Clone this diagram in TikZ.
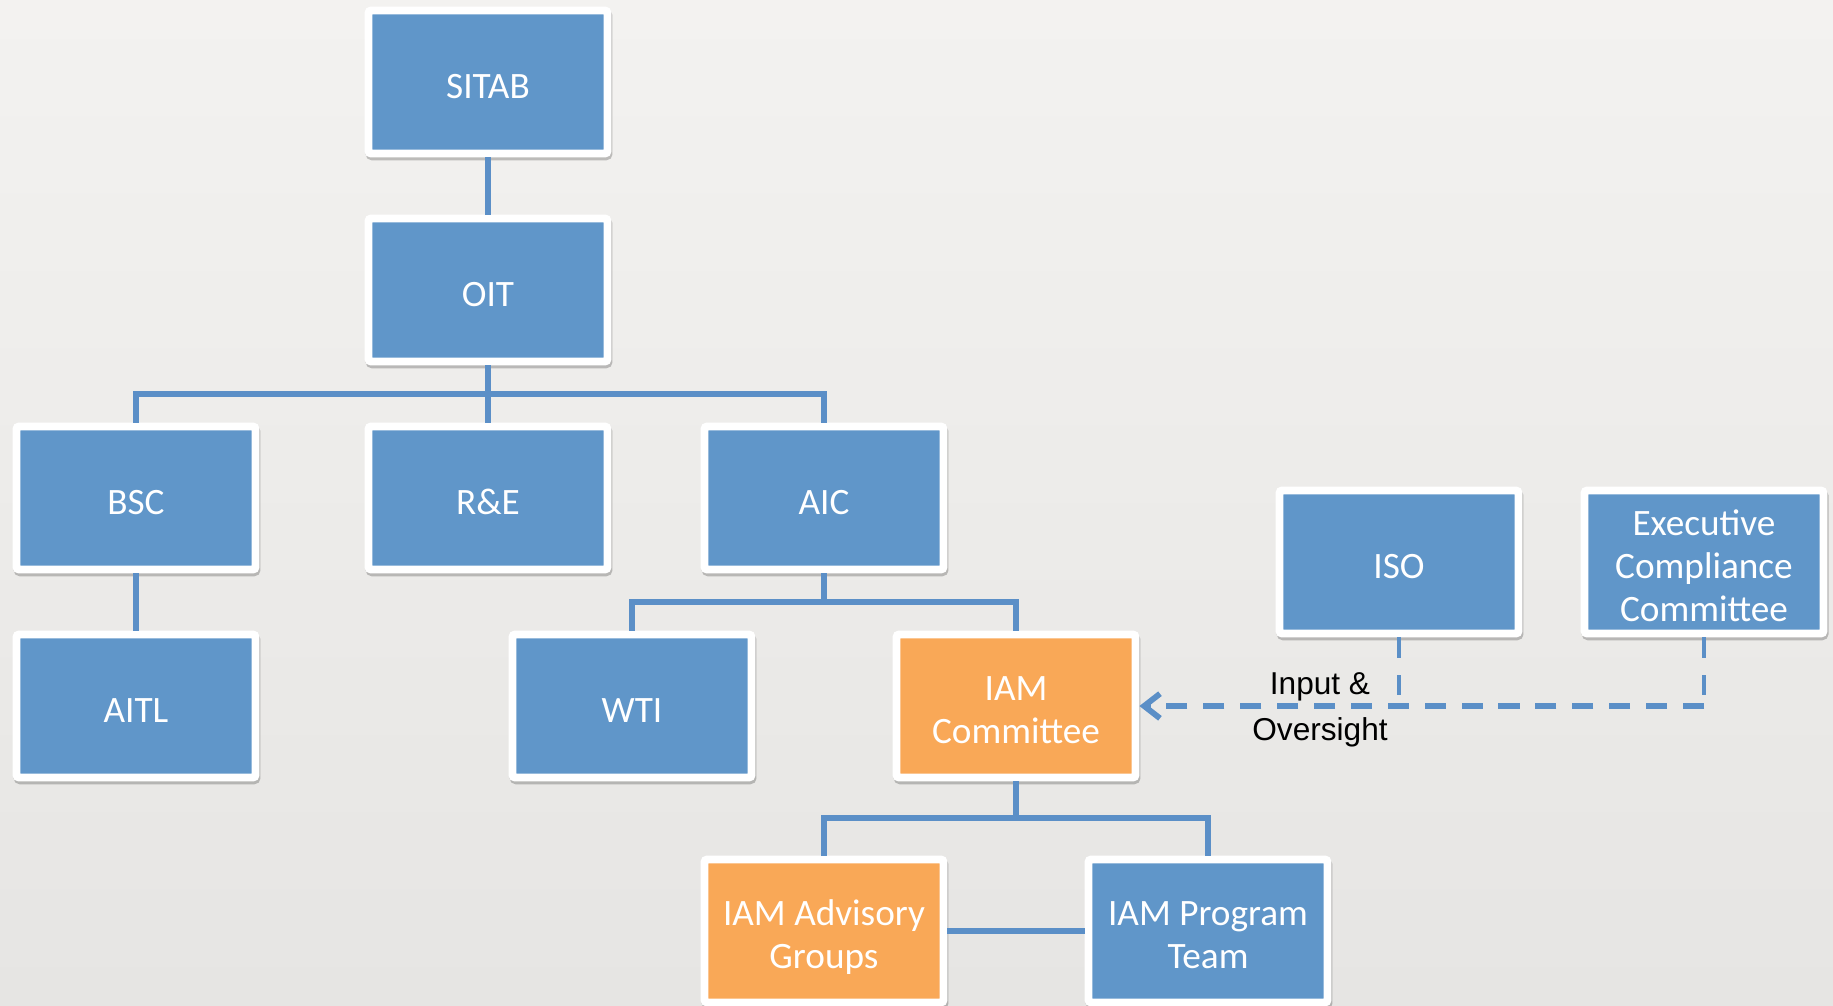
\documentclass[tikz,border=0pt]{standalone}
\usepackage{fontspec}
\setmainfont{Carlito}
\newfontfamily\arialfont{Liberation Sans}
\usetikzlibrary{arrows.meta,shadows}
\definecolor{boxblue}{HTML}{6096C9}
\definecolor{boxorange}{HTML}{F9A857}
\definecolor{linkblue}{HTML}{5B8FC7}
\definecolor{bgtop}{HTML}{F3F2F0}
\definecolor{bgbot}{HTML}{E6E5E3}
% box text, set a little low as in the slide
\newcommand{\orglines}[1]{\raisebox{-4.3pt}[\height][\depth]{\begin{tabular}{@{}c@{}}#1\end{tabular}}}

\begin{document}
\begin{tikzpicture}[x=0.02cm, y=-0.02cm,
	orgbox/.style={rectangle, draw=white, line width=4.5pt, fill=boxblue,
		minimum width=4.78cm, minimum height=2.86cm, inner sep=2pt,
		text=white, rounded corners=1.5pt,
		font=\fontsize{21.2}{24.5}\selectfont,
		drop shadow={shadow xshift=0.6pt, shadow yshift=-1.6pt, opacity=0.22,
			fill=black, draw=black, line width=4.5pt}},
	orgboxo/.style={orgbox, fill=boxorange},
	link/.style={draw=linkblue, line width=3.1pt},
	dashlink/.style={draw=linkblue, line width=3.5pt, dash pattern=on 12pt off 9pt},
	dashdrop/.style={dashlink, line width=2.6pt, dash pattern=on 11.5pt off 10pt},
	lbl/.style={align=center, font=\arialfont\fontsize{18}{26}\selectfont, text=black}]
	\shade[top color=bgtop, bottom color=bgbot] (0,0) rectangle (1833,1005);
	\useasboundingbox (0,0) rectangle (1833,1005);

	% top of the chart
	\node[orgbox] (sitab) at (488,82) {\orglines{SITAB}};
	\node[orgbox] (oit) at (488,290) {\orglines{OIT}};
	\node[orgbox] (bsc) at (136,498) {\orglines{BSC}};
	\node[orgbox] (re) at (488,498) {\orglines{R\&E}};
	\node[orgbox] (aic) at (824,498) {\orglines{AIC}};
	\node[orgbox] (aitl) at (136,706) {\orglines{AITL}};
	\node[orgbox] (wti) at (632,706) {\orglines{WTI}};
	\node[orgboxo] (iam) at (1016,706) {\orglines{IAM\\Committee}};
	\node[orgbox] (iso) at (1399,562) {\orglines{ISO}};
	\node[orgbox] (ecc) at (1704,562) {\orglines{Executive\\Compliance\\Committee}};
	\node[orgboxo] (adv) at (824,931) {\orglines{IAM Advisory\\Groups}};
	\node[orgbox] (prog) at (1208,931) {\orglines{IAM Program\\Team}};

	% bus points
	\coordinate (oitbus) at (488,394);
	\coordinate (aicbus) at (824,602);
	\coordinate (iambus) at (1016,818);
	\coordinate (isomerge) at (1399,706);
	\coordinate (eccturn) at (1704,706);

	\draw[link] (sitab) -- (oit);
	\draw[link] (oit) -- (oitbus) -- (re);
	\draw[link] (bsc.north) |- (oitbus) -| (aic.north);
	\draw[link] (bsc) -- (aitl);
	\draw[link] (aic) -- (aicbus);
	\draw[link] (wti.north) |- (aicbus) -| (iam.north);
	\draw[link] (iam) -- (iambus);
	\draw[link] (adv.north) |- (iambus) -| (prog.north);
	\draw[link] (adv) -- (prog);

	% input and oversight
	\draw[dashdrop] (iso.south) -- (isomerge);
	\draw[dashdrop] (ecc.south) -- (eccturn);
	\draw[dashlink, -{Straight Barb[length=9pt, width=14pt, line width=3.3pt]}] (eccturn) -- (iam.east);
	\node[lbl] (io) at (1320,710) {Input \&\\Oversight};
\end{tikzpicture}
\end{document}
